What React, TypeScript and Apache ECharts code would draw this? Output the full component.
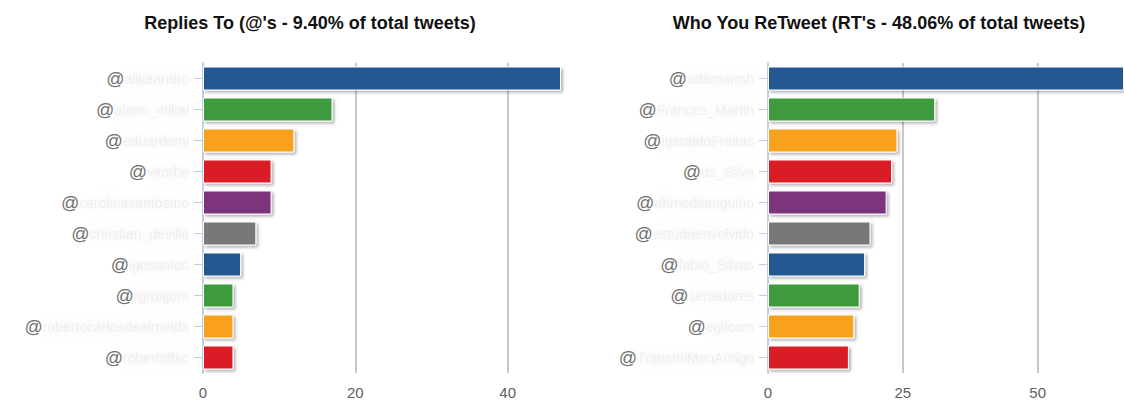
import React, { useEffect, useRef } from "react";
import * as echarts from "echarts";

const repliesTitle = "Replies To (@'s - 9.40% of total tweets)";
const retweetTitle = "Who You ReTweet (RT's - 48.06% of total tweets)";

const replyNames = [
  "alikeandro", "aleen_mikal", "eduardomi", "vitorbe", "carolinasantosmo",
  "christian_devilla", "igosantos", "rgroigurs", "robertocarlosdealmeida", "robertoffsc",
];
const replyValues = [47, 17, 12, 9, 9, 7, 5, 4, 4, 4];

const retweetNames = [
  "edemarmh", "Frances_Martin", "igeraldoFreitas", "ds_Silva", "ahmedsanguino",
  "estudoenvolvido", "fabio_Silvas", "senadores", "egilcom", "TransmiMeuAmigo",
];
const retweetValues = [66, 31, 24, 23, 22, 19, 18, 17, 16, 15];

const palette = ["#21588f", "#3d9a3d", "#f7a11a", "#d91f26", "#7b347d", "#787878"];

const FONT = "Liberation Sans, Arial, sans-serif";

function makeData(values: number[]) {
  return values.map((v, i) => ({
    value: v,
    itemStyle: { color: palette[i % palette.length] },
  }));
}

const labelRich = {
  at: { color: "#707070", fontSize: 18, fontFamily: FONT },
  n: {
    color: "rgba(205,205,205,0.25)",
    fontSize: 14,
    fontFamily: FONT,
    textShadowColor: "rgba(170,170,170,1)",
    textShadowBlur: 10,
  },
};

function yAxis(names: string[], gridIndex: number) {
  return {
    type: "category",
    gridIndex,
    inverse: true,
    data: names,
    axisLine: { show: true, lineStyle: { color: "#c0d0e0", width: 2 } },
    axisTick: { show: true, length: 9, alignWithLabel: true, lineStyle: { color: "#c0d0e0", width: 1 } },
    axisLabel: {
      margin: 14,
      formatter: (v: string) => `{at|@}{n|${v}}`,
      rich: labelRich,
    },
    splitLine: { show: false },
  };
}

function xAxis(max: number, interval: number, gridIndex: number) {
  return {
    type: "value",
    gridIndex,
    min: 0,
    max,
    interval,
    axisLine: { show: false },
    axisTick: { show: false },
    axisLabel: {
      color: "#606060",
      fontSize: 15,
      fontFamily: FONT,
      margin: 12,
      showMaxLabel: false,
    },
    splitLine: { show: true, showMaxLine: false, lineStyle: { color: "#c8c8c8", width: 2 } },
  };
}

function barSeries(values: number[], idx: number) {
  return {
    type: "bar",
    xAxisIndex: idx,
    yAxisIndex: idx,
    data: makeData(values),
    barWidth: 24,
    itemStyle: {
      borderColor: "#ffffff",
      borderWidth: 1,
      shadowColor: "rgba(0,0,0,0.3)",
      shadowBlur: 3,
      shadowOffsetX: 2,
      shadowOffsetY: 2,
    },
  };
}

export default function App() {
  const ref = useRef<HTMLDivElement>(null);
  useEffect(() => {
    document.body.style.margin = "0";
    document.body.style.overflow = "hidden";
    if (!ref.current) return;
    const chart = echarts.init(ref.current, undefined, { renderer: "svg" });
    chart.setOption({
      animation: false,
      backgroundColor: "#ffffff",
      title: [
        {
          text: repliesTitle,
          left: 305,
          top: 9,
          textAlign: "center",
          textStyle: { fontSize: 18, fontWeight: "bold", color: "#111", fontFamily: FONT },
        },
        {
          text: retweetTitle,
          left: 874,
          top: 9,
          textAlign: "center",
          textStyle: { fontSize: 18, fontWeight: "bold", color: "#111", fontFamily: FONT },
        },
      ],
      grid: [
        { left: 203, top: 63, width: 358, height: 310, containLabel: false },
        { left: 768, top: 63, width: 356, height: 310, containLabel: false },
      ],
      xAxis: [xAxis(47, 20, 0), xAxis(66, 25, 1)],
      yAxis: [yAxis(replyNames, 0), yAxis(retweetNames, 1)],
      series: [barSeries(replyValues, 0), barSeries(retweetValues, 1)],
    });
    return () => chart.dispose();
  }, []);
  return <div ref={ref} style={{ width: 1124, height: 401 }} />;
}
